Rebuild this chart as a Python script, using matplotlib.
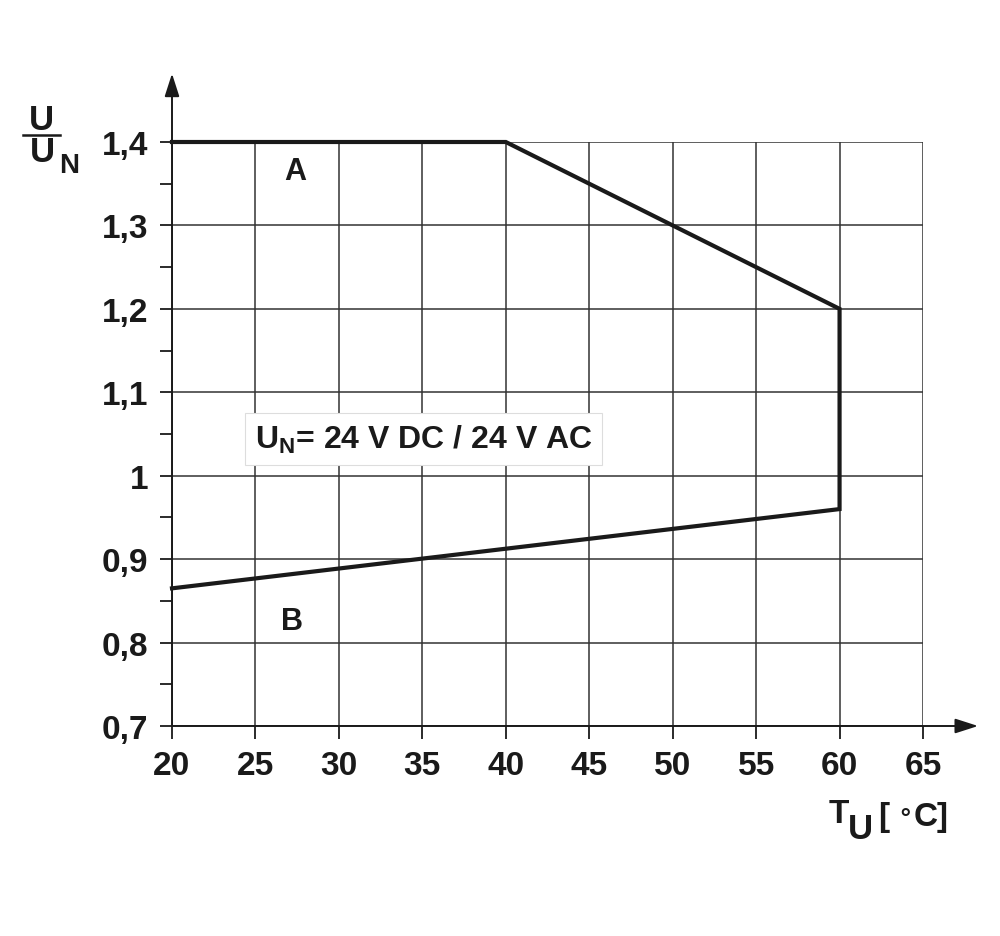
import matplotlib
matplotlib.use("Agg")
import matplotlib.pyplot as plt

# ── Data ──────────────────────────────────────────────────────────────────────
curve_t = [20, 40, 60, 60, 20]
curve_u = [1.4, 1.4, 1.2, 0.96, 0.865]

x_ticks = [20, 25, 30, 35, 40, 45, 50, 55, 60, 65]
y_ticks = [0.7, 0.8, 0.9, 1.0, 1.1, 1.2, 1.3, 1.4]
y_tick_labels = ["0,7", "0,8", "0,9", "1", "1,1", "1,2", "1,3", "1,4"]
y_minor = [0.75, 0.85, 0.95, 1.05, 1.15, 1.25, 1.35]

plt.rcParams["font.family"] = ["Liberation Sans", "DejaVu Sans"]
plt.rcParams["font.weight"] = "bold"
plt.rcParams["mathtext.fontset"] = "custom"
plt.rcParams["mathtext.rm"] = "Liberation Sans:bold"
plt.rcParams["mathtext.it"] = "Liberation Sans:bold"
plt.rcParams["mathtext.bf"] = "Liberation Sans:bold"

INK = "#1a1a1a"
GRID = "#333333"

fig = plt.figure(figsize=(10, 9.37), dpi=100)
ax = fig.add_axes([0.172, 1 - 727 / 937, 0.751, 584 / 937])
ax.set_xlim(20, 65)
ax.set_ylim(0.7, 1.4)
for s in ax.spines.values():
    s.set_visible(False)

ax.set_xticks(x_ticks)
ax.set_xticklabels([str(v) for v in x_ticks])
ax.set_yticks(y_ticks)
ax.set_yticklabels(y_tick_labels)
ax.set_yticks(y_minor, minor=True)
ax.tick_params(axis="both", which="both", direction="out", length=9,
               width=1.3, color=INK, labelsize=24, labelcolor=INK, pad=8)
ax.tick_params(axis="y", which="minor", labelleft=False)
ax.grid(True, which="major", color=GRID, linewidth=1.1)
ax.set_axisbelow(True)

# axes with arrows
ax.annotate("", xy=(68.3, 0.7), xytext=(20, 0.7), annotation_clip=False,
            arrowprops=dict(arrowstyle="-|>,head_length=1.4,head_width=0.45",
                            color=INK, lw=1.4, shrinkA=0, shrinkB=0))
ax.annotate("", xy=(20, 1.482), xytext=(20, 0.7), annotation_clip=False,
            arrowprops=dict(arrowstyle="-|>,head_length=1.4,head_width=0.45",
                            color=INK, lw=1.4, shrinkA=0, shrinkB=0))

ax.plot(curve_t, curve_u, color=INK, linewidth=3.0, solid_joinstyle="miter",
        clip_on=False, zorder=5)

ax.text(27.4, 1.365, "A", fontsize=22, ha="center", va="center", color=INK)
ax.text(27.2, 0.826, "B", fontsize=22, ha="center", va="center", color=INK)
ax.text(24.95, 1.044, r"U$_{\mathrm{N}}$= 24 V DC / 24 V AC", fontsize=23,
        ha="left", va="center", color=INK, zorder=6,
        bbox=dict(boxstyle="square,pad=0.3", facecolor="white",
                  edgecolor="#dddddd", linewidth=0.8))

# y-axis label: U / U_N
def px(x, y):
    return x / 1000, 1 - y / 937

fig.text(*px(41, 120), "U", fontsize=25, ha="center", va="center", color=INK)
fig.add_artist(plt.Line2D([23 / 1000, 60 / 1000], [1 - 136 / 937, 1 - 136 / 937],
                          color=INK, linewidth=1.8))
fig.text(*px(42, 153), "U", fontsize=25, ha="center", va="center", color=INK)
fig.text(*px(69, 166), "N", fontsize=20, ha="center", va="center", color=INK)

# x-axis label: T_U [°C]
fig.text(*px(839, 815), "T", fontsize=24, ha="center", va="center", color=INK)
fig.text(*px(860, 830), "U", fontsize=25, ha="center", va="center", color=INK)
fig.text(*px(878, 818), "[", fontsize=24, ha="left", va="center", color=INK)
fig.text(*px(905, 813), "\u2218", fontsize=18, ha="center", va="center",
         color=INK, family=["DejaVu Sans"])
fig.text(*px(914, 818), "C]", fontsize=24, ha="left", va="center", color=INK)

fig.savefig("out.png", dpi=100, facecolor="white")
